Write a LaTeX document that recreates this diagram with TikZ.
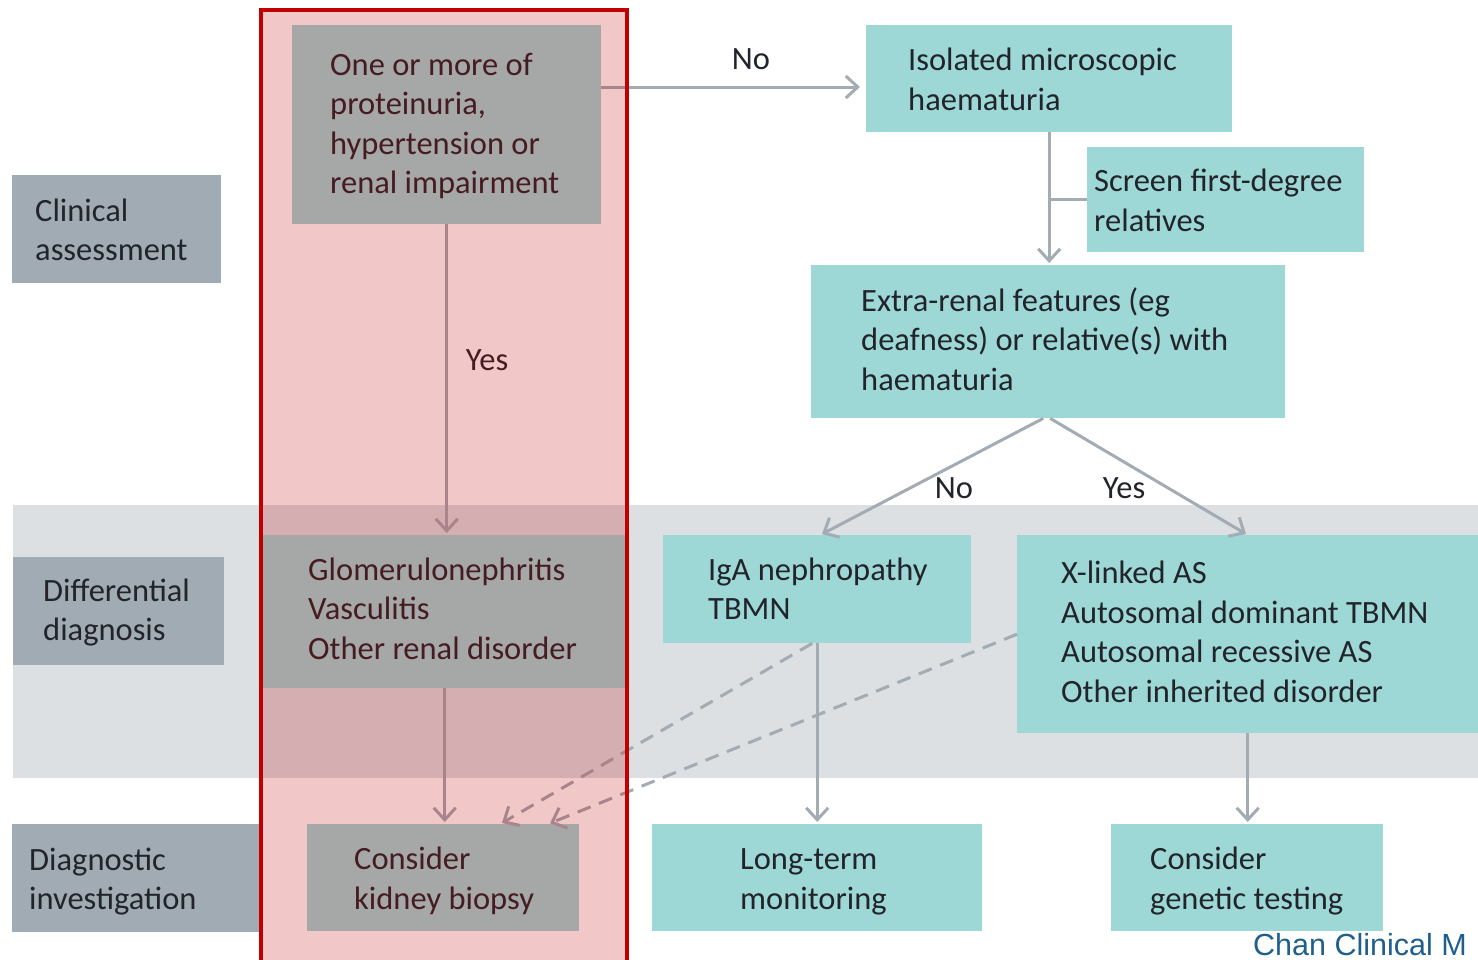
\documentclass[tikz,border=0pt]{standalone}
\usepackage{fontspec}
\setmainfont{Carlito}
\newfontfamily\footfont{Liberation Sans}
\usetikzlibrary{arrows.meta,calc}
\definecolor{tealbox}{RGB}{158,216,214}
\definecolor{labbox}{RGB}{161,171,180}
\definecolor{bandc}{RGB}{220,224,227}
\definecolor{conn}{RGB}{163,171,179}
\definecolor{txt}{RGB}{34,36,44}
\definecolor{redc}{RGB}{192,0,0}
\definecolor{footc}{RGB}{31,95,140}
\newcommand\bx[4][-4]{\makebox[#2pt][l]{\hspace*{#3pt}\raisebox{#1pt}[\height][\depth]{\begin{tabular}{@{}l@{}}#4\end{tabular}}}}
\begin{document}
\begin{tikzpicture}[x=1pt,y=-1pt,
  every node/.style={font=\fontsize{32.5pt}{39.5pt}\selectfont, text=txt},
  tbox/.style={fill=tealbox, inner sep=0pt, anchor=north west},
  lbox/.style={fill=labbox, inner sep=0pt, anchor=north west},
  lab/.style={inner sep=0pt},
  conline/.style={draw=conn, line width=3pt},
  arr/.style={conline, -{Straight Barb[length=12pt,width=22pt]}, shorten >=2pt},
  dash arr/.style={arr, dash pattern=on 14pt off 9pt}
]
\useasboundingbox (0,0) rectangle (1478,959);
\begin{scope}
\clip (0,0) rectangle (1478,959);
% band
\fill[bandc] (13,505) rectangle (1478,778);
% stage labels
\node[lbox, minimum width=209pt, minimum height=108pt] (L1) at (12,175) {\bx{209}{23}{Clinical\\assessment}};
\node[lbox, minimum width=211pt, minimum height=108pt] (L2) at (13,557) {\bx[-2]{211}{30}{Differential\\diagnosis}};
\node[lbox, minimum width=248pt, minimum height=108pt] (L3) at (12,824) {\bx{248}{17}{Diagnostic\\investigation}};
% boxes
\node[tbox, minimum width=309pt, minimum height=199pt] (A) at (292,25) {\bx[-2]{309}{38}{One or more of\\proteinuria,\\hypertension or\\renal impairment}};
\node[tbox, minimum width=366pt, minimum height=107pt] (B) at (866,25) {\bx{366}{42}{Isolated microscopic\\haematuria}};
\node[tbox, minimum width=277pt, minimum height=105pt] (C) at (1087,147) {\bx{277}{7}{Screen first-degree\\relatives}};
\node[tbox, minimum width=474pt, minimum height=153pt] (D) at (811,265) {\bx[-1]{474}{50}{Extra-renal features (eg\\deafness) or relative(s) with\\haematuria}};
\node[tbox, minimum width=363pt, minimum height=153pt] (E) at (263,535) {\bx[0]{363}{45}{Glomerulonephritis\\Vasculitis\\Other renal disorder}};
\node[tbox, minimum width=308pt, minimum height=108pt] (F) at (663,535) {\bx[-3]{308}{45}{IgA nephropathy\\TBMN}};
\node[tbox, minimum width=461pt, minimum height=198pt] (G) at (1017,535) {\bx[-1]{461}{44}{X-linked AS\\Autosomal dominant TBMN\\Autosomal recessive AS\\Other inherited disorder}};
\node[tbox, minimum width=272pt, minimum height=107pt] (H) at (307,824) {\bx{272}{47}{Consider\\kidney biopsy}};
\node[tbox, minimum width=330pt, minimum height=107pt] (I) at (652,824) {\bx{330}{88}{Long-term\\monitoring}};
\node[tbox, minimum width=272pt, minimum height=107pt] (J) at (1111,824) {\bx{272}{39}{Consider\\genetic testing}};
% connectors
\draw[arr] ([yshift=-62pt]A.north east) -- ([yshift=-62pt,xshift=-4pt]B.north west);
\node[lab] (no1) at (751,59) {No};
\draw[arr] (A.south) -- (A.south |- E.north);
\node[lab] (yes1) at (487,360) {Yes};
\draw[arr] (B.south) -- (B.south |- D.north);
\draw[conline] (C.west) -- (C.west -| B.south);
\draw[arr] ([xshift=-5pt]D.south) -- ([xshift=3pt]F.north);
\draw[arr] ([xshift=2pt]D.south) -- (G.north);
\node[lab] (no2) at (954,488) {No};
\node[lab] (yes2) at (1124,488) {Yes};
\draw[arr] (E.south) -- (E.south |- H.north);
\draw[arr] (F.south) -- (F.south |- I.north);
\draw[arr] (G.south) -- (G.south |- J.north);
\draw[dash arr] ([xshift=-5pt]F.south) -- ([xshift=57pt]H.north);
\draw[dash arr] (G.west) -- ([xshift=105pt]H.north);
% red overlay
\fill[redc, fill opacity=0.22] (261,10) rectangle (627,980);
\draw[redc, line width=4pt] (261,980) -- (261,10) -- (627,10) -- (627,980);
% footer
\node[anchor=base west, inner sep=0pt, text=footc, font=\footfont\fontsize{30.5pt}{34pt}\selectfont] (foot) at (1253,955) {Chan Clinical M};
\end{scope}
\end{tikzpicture}
\end{document}
